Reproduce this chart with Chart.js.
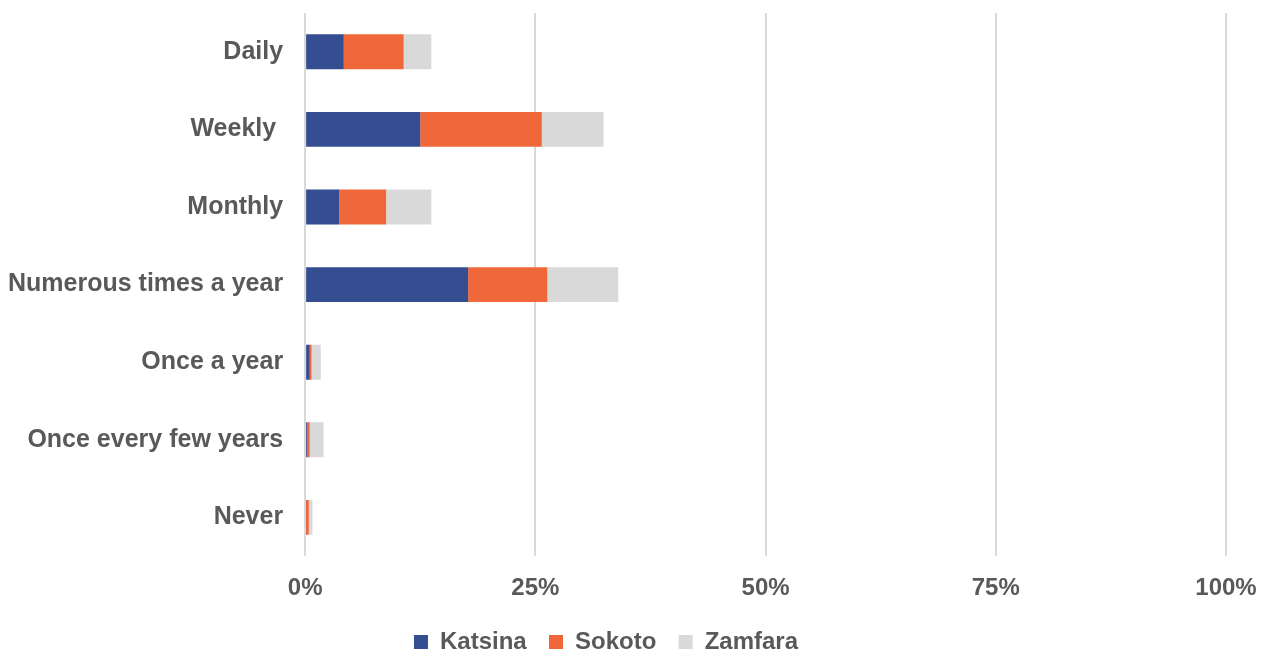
<!DOCTYPE html>
<html>
<head>
<meta charset="utf-8">
<script src="https://cdn.jsdelivr.net/npm/chart.js@4/dist/chart.umd.min.js"></script>
<style>
  html, body { margin: 0; padding: 0; background: #fff; }
  #wrap { width: 1276px; height: 655px; }
</style>
</head>
<body>
<div id="wrap"><canvas id="grafico"></canvas></div>
<script>
// categorias y valores (%)
const categorias = ['Daily', 'Weekly ', 'Monthly', 'Numerous times a year', 'Once a year', 'Once every few years', 'Never'];
const katsina = [4.2, 12.5, 3.7, 17.7, 0.5, 0.2, 0.1];
const sokoto  = [6.5, 13.2, 5.1, 8.6, 0.2, 0.3, 0.3];
const zamfara = [3.0, 6.7, 4.9, 7.7, 1.0, 1.5, 0.4];
const ticksX = [0, 25, 50, 75, 100];

const gris = '#595959';
const fuente = "'Liberation Sans', Arial, sans-serif";

const datos = {
    labels: categorias,
    datasets: [
        { label: 'Katsina', data: katsina, backgroundColor: '#354d91' },
        { label: 'Sokoto', data: sokoto, backgroundColor: '#f0673a' },
        { label: 'Zamfara', data: zamfara, backgroundColor: '#d9d9d9' }
    ]
};

const config = {
    type: 'bar',
    data: datos,
    options: {
        indexAxis: 'y',
        responsive: true,
        maintainAspectRatio: false,
        animation: false,
        barPercentage: 0.45,
        categoryPercentage: 1,
        layout: { autoPadding: false, padding: { top: 13, right: 50, bottom: -9, left: -14 } },
        plugins: {
            legend: {
                position: 'bottom',
                labels: {
                    color: gris,
                    font: { family: fuente, size: 24, weight: 'bold' },
                    boxWidth: 14,
                    boxHeight: 14,
                    padding: 9,
                    // un poco mas de aire entre items, sin cambiar la altura
                    generateLabels: chart => {
                        const items = Chart.defaults.plugins.legend.labels.generateLabels(chart);
                        items.forEach((it, i) => {
                            if (i < items.length - 1) it.text = it.text + '  ';
                        });
                        return items;
                    }
                }
            },
            tooltip: { enabled: false }
        },
        scales: {
            x: {
                stacked: true,
                min: 0,
                max: 100,
                afterBuildTicks: axis => {
                    axis.ticks = ticksX.map(v => ({ value: v }));
                },
                grid: { color: '#d9d9d9', lineWidth: 2, drawTicks: false },
                border: { display: false },
                ticks: {
                    color: gris,
                    padding: 18,
                    font: { family: fuente, size: 24, weight: 'bold' },
                    callback: v => v + '%'
                }
            },
            y: {
                stacked: true,
                grid: { display: false, drawTicks: false },
                border: { display: false },
                afterFit: s => { s.paddingTop = 0; s.paddingBottom = 0; },
                ticks: {
                    color: gris,
                    padding: 22,
                    font: { family: fuente, size: 25, weight: 'bold' }
                }
            }
        }
    }
};

new Chart(document.getElementById('grafico'), config);
</script>
</body>
</html>
